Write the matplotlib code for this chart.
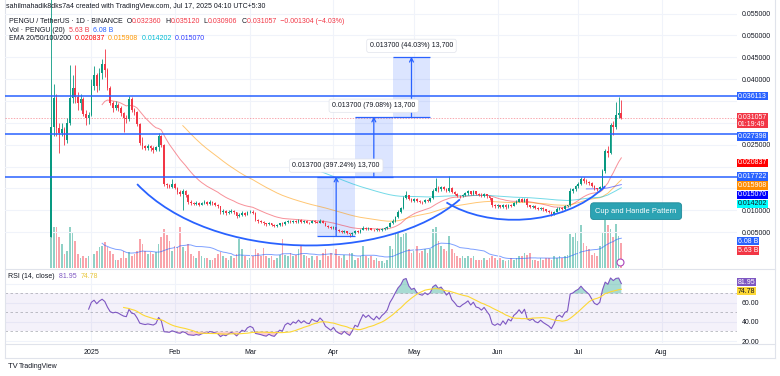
import numpy as np
import pandas as pd
import matplotlib
matplotlib.use("Agg")
import matplotlib.pyplot as plt
import matplotlib.dates as mdates
import matplotlib.transforms as mtransforms
from matplotlib.patches import Rectangle, PathPatch
from matplotlib.path import Path
from matplotlib.lines import Line2D

plt.rcParams['font.family'] = ['Liberation Sans', 'DejaVu Sans']

# ---- daily candles PENGU/USDT ----
start_date = "2024-12-17"
first_open = 0.0039
closes = [
    0.0290, 0.0357, 0.0288, 0.0277, 0.0286, 0.0261, 0.0300, 0.0357, 0.0380, 0.0360,
    0.0345, 0.0355, 0.0320, 0.0310, 0.0318, 0.0385, 0.0410, 0.0385, 0.0415, 0.0435,
    0.0420, 0.0380, 0.0345, 0.0335, 0.0340, 0.0334, 0.0322, 0.0312, 0.0308, 0.0355,
    0.0330, 0.0325, 0.0297, 0.0255, 0.0248, 0.0243, 0.0246, 0.0242, 0.0238, 0.0244,
    0.0270, 0.0250, 0.0160, 0.0157, 0.0154, 0.0160, 0.0152, 0.0142, 0.0138, 0.0143,
    0.0136, 0.0120, 0.0117, 0.0115, 0.0117, 0.0113, 0.0116, 0.0118, 0.0115, 0.0119,
    0.0116, 0.0113, 0.0109, 0.0095, 0.0098, 0.0094, 0.0097, 0.0099, 0.0095, 0.0086,
    0.0090, 0.0094, 0.0090, 0.0095, 0.0097, 0.0094, 0.0077, 0.0075, 0.0073, 0.0070,
    0.0068, 0.0070, 0.0066, 0.0064, 0.0067, 0.0070, 0.0068, 0.0074, 0.0076, 0.0073,
    0.0076, 0.0074, 0.0077, 0.0073, 0.0075, 0.0072, 0.0071, 0.0075, 0.0073, 0.0072,
    0.0075, 0.0072, 0.0065, 0.0062, 0.0059, 0.0061, 0.0055, 0.0052, 0.0050, 0.0052,
    0.0048, 0.0045, 0.0048, 0.0052, 0.0050, 0.0055, 0.0060, 0.0057, 0.0059, 0.0056,
    0.0054, 0.0057, 0.0054, 0.0057, 0.0059, 0.0062, 0.0070, 0.0076, 0.0085, 0.0096,
    0.0105, 0.0128, 0.0134, 0.0126, 0.0122, 0.0126, 0.0121, 0.0119, 0.0118, 0.0124,
    0.0122, 0.0127, 0.0145, 0.0152, 0.0148, 0.0153, 0.0149, 0.0144, 0.0151, 0.0142,
    0.0138, 0.0133, 0.0132, 0.0136, 0.0139, 0.0143, 0.0138, 0.0143, 0.0137, 0.0136,
    0.0133, 0.0137, 0.0132, 0.0127, 0.0112, 0.0109, 0.0111, 0.0108, 0.0113, 0.0107,
    0.0113, 0.0110, 0.0117, 0.0120, 0.0125, 0.0120, 0.0126, 0.0111, 0.0108, 0.0110,
    0.0105, 0.0103, 0.0106, 0.0102, 0.0099, 0.0096, 0.0091, 0.0096, 0.0104, 0.0106,
    0.0103, 0.0109, 0.0111, 0.0145, 0.0148, 0.0155, 0.0160, 0.0172, 0.0168, 0.0165,
    0.0162, 0.0156, 0.0150, 0.0148, 0.0153, 0.0190, 0.0236, 0.0232, 0.0296, 0.0290,
    0.0318, 0.03236, 0.031057,
]
highs = [
    0.0600, 0.0390, 0.0365, 0.0300, 0.0300, 0.0290, 0.0310, 0.0432, 0.0410, 0.0432,
    0.0370, 0.0365, 0.0360, 0.0330, 0.0325, 0.0400, 0.0430, 0.0415, 0.0425, 0.0445,
    0.0470, 0.0425, 0.0385, 0.0350, 0.0350, 0.0345, 0.0338, 0.0325, 0.0318, 0.0362,
    0.0358, 0.0335, 0.0328, 0.0300, 0.0268, 0.0250, 0.0252, 0.0250, 0.0246, 0.0248,
    0.0277, 0.0272, 0.0252, 0.0162, 0.0160, 0.0172, 0.0162, 0.0154, 0.0146, 0.0148,
    0.0146, 0.0138, 0.0124, 0.0120, 0.0122, 0.0120, 0.0120, 0.0124, 0.0121, 0.0124,
    0.0121, 0.0118, 0.0115, 0.0110, 0.0102, 0.0100, 0.0100, 0.0103, 0.0101, 0.0096,
    0.0094, 0.0098, 0.0096, 0.0099, 0.0100, 0.0100, 0.0096, 0.0079, 0.0077, 0.0075,
    0.0072, 0.0073, 0.0071, 0.0068, 0.0069, 0.0072, 0.0073, 0.0076, 0.0078, 0.0078,
    0.0078, 0.0078, 0.0080, 0.0079, 0.0078, 0.0077, 0.0074, 0.0078, 0.0077, 0.0076,
    0.0081, 0.0077, 0.0073, 0.0066, 0.0063, 0.0063, 0.0062, 0.0057, 0.0054, 0.0055,
    0.0053, 0.0049, 0.0050, 0.0054, 0.0055, 0.0057, 0.0064, 0.0061, 0.0061, 0.0060,
    0.0058, 0.0059, 0.0058, 0.0059, 0.0061, 0.0064, 0.0073, 0.0079, 0.0088, 0.0100,
    0.0108, 0.0132, 0.0145, 0.0136, 0.0128, 0.0129, 0.0127, 0.0123, 0.0121, 0.0126,
    0.0126, 0.0129, 0.0148, 0.0174, 0.0156, 0.0156, 0.0155, 0.0151, 0.0178, 0.0153,
    0.0144, 0.0140, 0.0136, 0.0138, 0.0141, 0.0146, 0.0145, 0.0147, 0.0144, 0.0140,
    0.0139, 0.0140, 0.0138, 0.0133, 0.0128, 0.0114, 0.0114, 0.0113, 0.0115, 0.0114,
    0.0115, 0.0115, 0.0119, 0.0123, 0.0128, 0.0127, 0.0129, 0.0127, 0.0113, 0.0113,
    0.0111, 0.0107, 0.0108, 0.0107, 0.0104, 0.0101, 0.0098, 0.0098, 0.0107, 0.0108,
    0.0108, 0.0111, 0.0113, 0.0150, 0.0152, 0.0158, 0.0165, 0.0176, 0.0177, 0.0172,
    0.0168, 0.0164, 0.0158, 0.0152, 0.0156, 0.0195, 0.0240, 0.0246, 0.0300, 0.0305,
    0.0348, 0.0360, 0.03512,
]
lows = [
    0.0039, 0.0270, 0.0270, 0.0231, 0.0270, 0.0250, 0.0255, 0.0295, 0.0345, 0.0345,
    0.0330, 0.0330, 0.0315, 0.0295, 0.0298, 0.0315, 0.0375, 0.0370, 0.0375, 0.0400,
    0.0405, 0.0375, 0.0340, 0.0325, 0.0330, 0.0328, 0.0315, 0.0279, 0.0300, 0.0305,
    0.0325, 0.0318, 0.0292, 0.0250, 0.0240, 0.0238, 0.0238, 0.0236, 0.0230, 0.0236,
    0.0236, 0.0245, 0.0155, 0.0152, 0.0150, 0.0150, 0.0148, 0.0138, 0.0133, 0.0101,
    0.0130, 0.0115, 0.0113, 0.0111, 0.0112, 0.0110, 0.0111, 0.0114, 0.0111, 0.0113,
    0.0112, 0.0109, 0.0105, 0.0092, 0.0092, 0.0090, 0.0092, 0.0094, 0.0092, 0.0082,
    0.0084, 0.0088, 0.0087, 0.0089, 0.0093, 0.0091, 0.0075, 0.0072, 0.0070, 0.0067,
    0.0065, 0.0066, 0.0063, 0.0061, 0.0062, 0.0065, 0.0065, 0.0067, 0.0072, 0.0071,
    0.0072, 0.0072, 0.0072, 0.0071, 0.0071, 0.0070, 0.0068, 0.0070, 0.0071, 0.0070,
    0.0071, 0.0070, 0.0063, 0.0060, 0.0057, 0.0057, 0.0053, 0.0050, 0.0048, 0.0048,
    0.0046, 0.0040, 0.0042, 0.0046, 0.0048, 0.0049, 0.0054, 0.0055, 0.0055, 0.0054,
    0.0052, 0.0053, 0.0052, 0.0053, 0.0055, 0.0057, 0.0061, 0.0069, 0.0074, 0.0083,
    0.0094, 0.0102, 0.0126, 0.0123, 0.0118, 0.0120, 0.0118, 0.0116, 0.0115, 0.0116,
    0.0119, 0.0119, 0.0125, 0.0143, 0.0142, 0.0145, 0.0146, 0.0141, 0.0142, 0.0139,
    0.0135, 0.0130, 0.0128, 0.0130, 0.0133, 0.0136, 0.0136, 0.0136, 0.0135, 0.0133,
    0.0130, 0.0131, 0.0129, 0.0124, 0.0108, 0.0105, 0.0106, 0.0105, 0.0106, 0.0104,
    0.0106, 0.0107, 0.0109, 0.0115, 0.0118, 0.0118, 0.0118, 0.0108, 0.0105, 0.0106,
    0.0102, 0.0100, 0.0101, 0.0099, 0.0096, 0.0093, 0.0088, 0.0089, 0.0095, 0.0101,
    0.0100, 0.0101, 0.0107, 0.0110, 0.0140, 0.0145, 0.0150, 0.0157, 0.0163, 0.0161,
    0.0158, 0.0153, 0.0147, 0.0144, 0.0146, 0.0150, 0.0186, 0.0222, 0.0228, 0.0272,
    0.0285, 0.0310, 0.030906,
]
# volume in billions of PENGU
volumes_b = [
    15.5, 9.3, 9.3, 7.0, 5.4, 3.1, 3.9, 9.3, 8.1, 6.2,
    3.1, 2.3, 2.7, 2.3, 2.7, 4.7, 3.1, 3.9, 4.7, 5.0,
    5.8, 4.7, 3.9, 3.1, 1.9, 1.9, 2.3, 3.9, 2.3, 3.5,
    2.7, 3.1, 3.9, 6.6, 5.4, 3.9, 3.1, 3.5, 3.1, 3.5,
    5.4, 7.0, 8.9, 7.4, 6.2, 3.9, 5.0, 4.7, 9.3, 4.7,
    3.9, 5.4, 3.1, 2.7, 2.3, 3.9, 2.7, 2.3, 2.3, 1.9,
    1.9, 2.3, 3.1, 3.5, 2.7, 2.3, 1.9, 2.7, 2.3, 3.1,
    6.6, 4.2, 2.6, 1.9, 2.2, 2.6, 4.2, 3.4, 2.6, 4.6,
    2.6, 2.2, 2.6, 1.9, 2.2, 3.0, 6.5, 3.0, 2.6, 3.4,
    2.6, 3.0, 4.2, 5.3, 3.0, 2.6, 2.2, 2.6, 1.9, 2.6,
    1.9, 3.4, 4.2, 2.6, 3.4, 2.2, 4.2, 2.6, 2.2, 3.0,
    1.9, 3.4, 3.4, 1.9, 2.2, 2.6, 5.0, 2.6, 2.2, 2.6,
    1.9, 2.2, 1.5, 1.5, 1.1, 1.9, 5.0, 4.2, 7.7, 8.1,
    6.9, 7.7, 8.1, 4.2, 3.4, 3.8, 5.0, 3.4, 3.8, 4.2,
    3.4, 4.2, 8.8, 9.2, 6.1, 5.0, 4.2, 3.8, 7.3, 4.2,
    3.4, 2.6, 2.2, 2.6, 2.2, 2.6, 2.2, 2.6, 1.9, 1.9,
    1.9, 2.2, 1.9, 2.2, 2.6, 2.2, 1.9, 2.2, 1.9, 1.5,
    1.9, 2.2, 1.9, 2.2, 2.6, 2.6, 3.4, 3.0, 3.4, 1.9,
    1.9, 1.5, 2.2, 1.9, 2.2, 2.2, 1.9, 2.6, 2.2, 2.6,
    2.2, 2.6, 3.0, 7.7, 6.9, 8.1, 6.1, 9.6, 5.7, 5.0,
    4.2, 3.0, 3.4, 2.6, 5.0, 8.1, 10.8, 9.6, 8.8, 6.9,
    10.0, 7.3, 5.63,
]

# horizontal levels drawn on the chart
levels = [0.036113, 0.027398, 0.017722]
# price-range measurement boxes: start day index, base price
range_start_days = [99, 113, 127]
range_bases = [0.004022, 0.017722, 0.031422]
range_height = 0.0137
range_labels = ["0.013700 (397.24%) 13,700", "0.013700 (79.08%) 13,700", "0.013700 (44.03%) 13,700"]
# cup and handle curves (day index, price) control points
cup_ctrl = [(32, 0.0160), (60, -0.0021), (125, -0.0021), (152, 0.0125)]
handle_ctrl = [(147, 0.0118), (162, 0.0060), (190, 0.0060), (206, 0.0155)]

# values printed in the legend / price scale
last_close = 0.031057
countdown = "01:19:49"
ema_lengths = [20, 50, 100, 200]
ema_values = [0.020837, 0.015908, 0.014202, 0.015070]
vol_last, vol_ma_last = 5.63, 6.08
rsi_last, rsi_ma_last = 81.95, 74.78

GREEN = "#089981"
RED = "#f23645"
BLUE = "#2962ff"
TXT = "#131722"
GRID = "#f0f3fa"
ema_colors = ["#f23645", "#ff9800", "#00bcd4", "#1e22ff"]
ema_tag_colors = ["#ff0000", "#ff8c00", "#00ffff", "#0000ff"]
ema_text_colors = ["white", "white", TXT, "white"]


def tv_ema(values, n):
    out = np.full(len(values), np.nan)
    if len(values) < n:
        return out
    a = 2.0 / (n + 1)
    out[n - 1] = np.mean(values[:n])
    for k in range(n, len(values)):
        out[k] = a * values[k] + (1 - a) * out[k - 1]
    return out


def tv_rsi(c, n=14):
    d = np.diff(c)
    up = np.maximum(d, 0)
    dn = np.maximum(-d, 0)
    out = np.full(len(c), np.nan)
    au, ad = up[:n].mean(), dn[:n].mean()
    out[n] = 100 - 100 / (1 + au / ad)
    for k in range(n + 1, len(c)):
        au = (au * (n - 1) + up[k - 1]) / n
        ad = (ad * (n - 1) + dn[k - 1]) / n
        out[k] = 100.0 if ad == 0 else 100 - 100 / (1 + au / ad)
    return out


close = np.array(closes)
opn = np.r_[first_open, close[:-1]]
high = np.array(highs)
low = np.array(lows)
vol = np.array(volumes_b)
dates = pd.date_range(start_date, periods=len(close), freq="D")
xd = mdates.date2num(dates)
x0 = xd[0]
up = close >= opn
col = np.where(up, GREEN, RED)

rsi = tv_rsi(close)
rsi_ma = pd.Series(rsi).rolling(14).mean().values
vol_ma = pd.Series(vol).rolling(20).mean().values

# ---- figure layout (pixel based, 780x376) ----
W, H = 780, 376
fig = plt.figure(figsize=(W / 100, H / 100), dpi=100)


def rect(l, t, r, b):
    return [l / W, 1 - b / H, (r - l) / W, (b - t) / H]


ax = fig.add_axes(rect(5, 0, 737, 268))
axr = fig.add_axes(rect(5, 270, 737, 343))
axv = ax.twinx()
ax.set_zorder(3)
axv.set_zorder(2)
ax.patch.set_visible(False)
axv.axis("off")

xlim = (x0 - 17.1, x0 + 255.0)
ax.set_xlim(*xlim)
axr.set_xlim(*xlim)
ax.set_ylim(-0.0032, 0.0581)
axv.set_ylim(0, 60.5)
axr.set_ylim(17.9, 94.7)

month_ticks = mdates.date2num(pd.date_range("2025-01-01", "2025-08-01", freq="MS"))
month_labels = ["2025", "Feb", "Mar", "Apr", "May", "Jun", "Jul", "Aug"]

for a in (ax, axr):
    for s in a.spines.values():
        s.set_visible(False)
    a.set_xticks(month_ticks)
    a.grid(True, color=GRID, lw=0.8)
    a.set_axisbelow(True)
    a.yaxis.tick_right()
    a.tick_params(length=0, labelsize=5, labelcolor=TXT, pad=3.5)
ax.set_xticklabels([])
axr.set_xticklabels(month_labels)
axr.tick_params(axis="x", pad=4)

# tick labels hidden under the scale tags are left out, as on the chart
price_ticks = np.arange(0.005, 0.0551, 0.005)
hidden = {0.035, 0.030, 0.020, 0.015}
ax.set_yticks(price_ticks)
ax.set_yticklabels(["" if round(v, 3) in hidden else f"{v:.6f}" for v in price_ticks])
axr.set_yticks([20, 40, 60, 80])
axr.set_yticklabels(["20.00", "40.00", "60.00", ""])

# ---- volume ----
vcol = np.where(up, GREEN, RED)
axv.bar(xd, vol, width=0.62, color=vcol, alpha=0.45, lw=0)
axv.plot(xd, vol_ma, color=BLUE, lw=0.7, alpha=0.6)

# ---- candles ----
ax.vlines(xd, low, high, colors=col, lw=0.6, zorder=4)
body_lo = np.minimum(opn, close)
body_h = np.maximum(np.abs(close - opn), 0.00006)
ax.bar(xd, body_h, bottom=body_lo, width=0.62, color=col, lw=0, zorder=5)

# ---- EMAs ----
for n, c in zip(ema_lengths, ema_colors):
    ax.plot(xd, tv_ema(close, n), color=c, lw=0.7, alpha=0.55, zorder=3)

# ---- levels and last price ----
for lv in levels:
    ax.axhline(lv, color=BLUE, lw=1.3, alpha=0.85, zorder=6)
ax.axhline(last_close, color=RED, lw=0.5, ls=(0, (2, 2)), alpha=0.6, zorder=2)

# ---- price range boxes ----
for s, b, lab in zip(range_start_days, range_bases, range_labels):
    xa, xb = x0 + s, x0 + s + 14
    mid = (xa + xb) / 2
    ax.add_patch(Rectangle((xa, b), xb - xa, range_height, fc=BLUE, alpha=0.16, lw=0, zorder=2))
    ax.hlines([b, b + range_height], xa, xb, colors=BLUE, lw=0.9, zorder=6)
    ax.annotate("", xy=(mid, b + range_height), xytext=(mid, b),
                arrowprops=dict(arrowstyle="->", color=BLUE, lw=0.9, shrinkA=0, shrinkB=0,
                                mutation_scale=7), zorder=6)
    ax.text(mid, b + range_height + 0.0025, lab, ha="center", va="center", fontsize=5,
            color=TXT, zorder=12,
            bbox=dict(boxstyle="round,pad=0.45,rounding_size=0.3", fc="white", ec="#e0e3eb", lw=0.5))

# ---- cup and handle ----
for pts in (cup_ctrl, handle_ctrl):
    verts = [(x0 + d, p) for d, p in pts]
    path = Path(verts, [Path.MOVETO, Path.CURVE4, Path.CURVE4, Path.CURVE4])
    ax.add_patch(PathPatch(path, fc="none", ec=BLUE, lw=1.3, zorder=7))
ax.text(x0 + 217.5, 0.0098, "Cup and Handle Pattern", ha="center", va="center", fontsize=5.4,
        color="white", zorder=12,
        bbox=dict(boxstyle="round,pad=0.65,rounding_size=0.45", fc="#2ca3b3", ec="#1f8a99", lw=0.6))
ax.plot(x0 + 211.5, -0.0018, marker="o", ms=5, mfc="white", mec="#ab47bc", mew=0.8, zorder=8,
        clip_on=False)

# ---- RSI pane ----
axr.axhspan(30, 70, color="#7e57c2", alpha=0.08, lw=0)
for lv in (70, 50, 30):
    axr.axhline(lv, color="#9598a1", lw=0.6, ls=(0, (3, 3)), alpha=0.7)
axr.fill_between(xd, rsi, 70, where=rsi > 70, interpolate=True, color=GREEN, alpha=0.35, lw=0)
axr.fill_between(xd, rsi, 30, where=rsi < 30, interpolate=True, color=RED, alpha=0.25, lw=0)
axr.plot(xd, rsi, color="#7e57c2", lw=0.8)
axr.plot(xd, rsi_ma, color="#fdd835", lw=0.8)

TAG_FS = 5.0


# ---- scale tags ----
def tag(a, y, text, fc, tc="white", va="center"):
    tr = mtransforms.blended_transform_factory(a.transAxes, a.transData)
    a.text(1.0015, y, text, transform=tr, ha="left", va=va, fontsize=TAG_FS, color=tc,
           clip_on=False, zorder=20, linespacing=1.0,
           bbox=dict(boxstyle="square,pad=0.1", fc=fc, ec="none"))


def stack(items, gap):
    # keep tags from overlapping, top to bottom
    items = sorted(items, key=lambda t: -t[0])
    out, prev = [], None
    for y, rows, *rest in items:
        if prev is not None and y > prev:
            y = prev
        out.append((y, rows, *rest))
        prev = y - gap * rows
    return out


gap = 0.00208  # ~9 px on the price scale
price_tags = [(levels[0], 1, f"{levels[0]:.6f}", BLUE, "white"),
              (last_close, 2, f"{last_close:.6f}\n{countdown}", RED, "white"),
              (levels[1], 1, f"{levels[1]:.6f}", BLUE, "white"),
              (levels[2], 1, f"{levels[2]:.6f}", BLUE, "white")]
for v, fc, tc in zip(ema_values, ema_tag_colors, ema_text_colors):
    price_tags.append((v, 1, f"{v:.6f}", fc, tc))
for y, rows, text, fc, tc in stack(price_tags, gap):
    if rows == 2:
        tag(ax, y + gap * 0.5, text, fc, tc, va="top")
    else:
        tag(ax, y, text, fc, tc)

for y, rows, text, fc, tc in stack([(vol_ma_last, 1, f"{vol_ma_last:.2f} B", BLUE, "white"),
                                    (vol_last, 1, f"{vol_last:.2f} B", RED, "white")], 2.1):
    tag(axv, y, text, fc, tc)
for y, rows, text, fc, tc in stack([(rsi_last, 1, f"{rsi_last:.2f}", "#7e57c2", "white"),
                                    (rsi_ma_last, 1, f"{rsi_ma_last:.2f}", "#fdd835", TXT)], 9.4):
    tag(axr, y, text, fc, tc)


# ---- header / legends ----
def line(x_px, y_px, segments, size=5):
    prev = None
    for txt, c in segments:
        if prev is None:
            prev = ax.annotate(txt, xy=(x_px, H - y_px), xycoords="figure pixels", ha="left",
                               va="center", fontsize=size, color=c, annotation_clip=False, zorder=30)
        else:
            prev = ax.annotate(txt, xy=(1, 0.5), xycoords=prev, ha="left", va="center",
                               fontsize=size, color=c, annotation_clip=False, zorder=30)


line(6, 7, [("sahilmahadik8dks7a4 created with TradingView.com, Jul 17, 2025 04:10 UTC+5:30", TXT)])
line(9, 21.5, [("PENGU / TetherUS · 1D · BINANCE  O", TXT), ("0.032360", RED), ("  H", TXT),
               ("0.035120", RED), ("  L", TXT), ("0.030906", RED), ("  C", TXT),
               ("0.031057  −0.001304 (−4.03%)", RED)])
line(9, 30, [("Vol · PENGU (20)  ", TXT), (f"{vol_last:.2f} B  ", RED), (f"{vol_ma_last:.2f} B", BLUE)])
line(9, 38.5, [("EMA 20/50/100/200  ", TXT)] +
     [(f"{v:.6f}  ", c) for v, c in zip(ema_values, ["#ff0000", "#ff9800", "#00bcd4", "#2e3bff"])])
line(8, 276.5, [("RSI (14, close)  ", TXT), (f"{rsi_last:.2f}  ", "#7e57c2"), (f"{rsi_ma_last:.2f}", "#e8c63a")])
line(8, 367, [("TV ", TXT)], size=5.5)
ax.annotate("TradingView", xy=(19, H - 367), xycoords="figure pixels", ha="left", va="center",
            fontsize=5, color=TXT, annotation_clip=False)

# frame lines
for xs, ys in [((5, 775), (269, 269)), ((5, 775), (343.5, 343.5)), ((775, 775), (0, 358)),
               ((5, 775), (358, 358)), ((5, 5), (0, 358))]:
    fig.add_artist(Line2D([xs[0] / W, xs[1] / W], [1 - ys[0] / H, 1 - ys[1] / H],
                          color="#e0e3eb", lw=0.8, transform=fig.transFigure))

fig.savefig("out.png", dpi=100, facecolor="white")
